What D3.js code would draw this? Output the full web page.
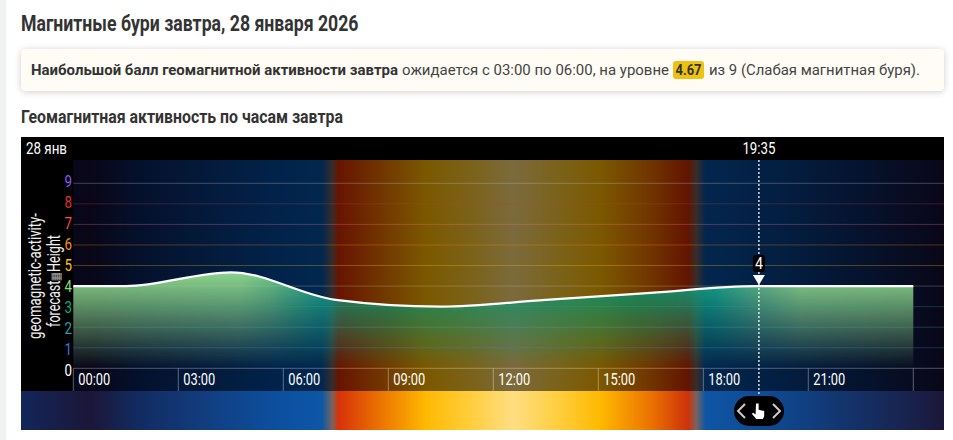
<!DOCTYPE html>
<html lang="ru"><head><meta charset="utf-8">
<script src="https://cdn.jsdelivr.net/npm/d3@7"></script>
<style>
html,body{margin:0;padding:0;background:#fff;overflow:hidden}
svg{display:block}
text{font-family:"Roboto",sans-serif}
</style></head><body>
<svg id="c" width="953" height="440"></svg>
<script>
// data
const hours=[0,1.5,4.5,7.5,10.5,13.5,16.5,19.5,22.5,24];
const activity=[4,4,4.67,3.33,3,3.33,3.67,4,4,4];
const tickHours=[0,3,6,9,12,15,18,21,24];
const tickLabels=["00:00","03:00","06:00","09:00","12:00","15:00","18:00","21:00"];
const levels=[0,1,2,3,4,5,6,7,8,9];
const levelColors=["#ffffff","#2a80e8","#2f9db0","#00b080","#85e070","#ffc107","#ff8f00","#ff4d4d","#e03030","#8a5cf0"];
const gridColors=["#ffffff","#3a90d8","#50b0b0","#10b080","#b0c8a0","#ffc800","#ff9600","#ff7090","#c04050","#c8c8d8"];
const skyHours=[-1.49,0.49,1.77,3.63,5.91,7.11,7.4,7.57,8.77,10.06,11.34,12.57,13.91,15.06,16.49,17.57,17.8,18.06,20.26,22.26,24.26,24.89];
const skyColors=["#12265a","#1c1637","#122a5f","#123c7d","#0c50a0","#0d57a5","#78645f","#d7320a","#eb7300","#ffb900","#ffcd3c","#ffde82","#ffcd3c","#ffb900","#eb7300","#cd320a","#78645f","#0f55a5","#0f468c","#143269","#191e46","#1c1637"];
const fillHours=[0,4.77,5.63,6.49,7.29,7.77,9,12.57,16.2,17.63,18.34,19.63,20.77,26];
const fillColors=["#8cd78c","#8cd78c","#6ec887","#3cb487","#14a591","#0a9b78","#009670","#0f9673","#009670","#0fa07d","#19aa8c","#64be8c","#8cd78c","#8cd78c"];
const dateLabel="28 янв", cursorHour=19.583, cursorTime="19:35", cursorValue="4";

const svg=d3.select("#c");
const defs=svg.append("defs");
const x=d3.scaleLinear().domain([0,24]).range([73.3,913.3]);
const y=d3.scaleLinear().domain([0,9]).range([368.3,183.3]);
const yLabel=d3.scaleLinear().domain([0,9]).range([370.7,181]);
const L=21,R=944,T=137,PT=160,PB=391,SB=430;

function hGrad(id,hs,cs){
  const a=x(hs[0]),b=x(hs[hs.length-1]);
  const g=defs.append("linearGradient").attr("id",id).attr("gradientUnits","userSpaceOnUse")
    .attr("x1",a).attr("x2",b).attr("y1",0).attr("y2",0);
  hs.forEach((h,i)=>g.append("stop").attr("offset",(x(h)-a)/(b-a)).attr("stop-color",cs[i]));
}
hGrad("sky",skyHours,skyColors);
hGrad("dim",skyHours,skyColors.map(c=>{const k=d3.rgb(c);return d3.rgb(k.r*.5-5,k.g*.5-5,k.b*.5-5).clamp().formatHex();}));
hGrad("fillTop",fillHours,fillColors);
const fade=defs.append("linearGradient").attr("id","fade").attr("gradientUnits","userSpaceOnUse")
  .attr("x1",0).attr("x2",0).attr("y1",272).attr("y2",y(0));
fade.append("stop").attr("offset",0).attr("stop-color","#fff");
fade.append("stop").attr("offset",1).attr("stop-color","#000");
defs.append("mask").attr("id","fadeMask").attr("maskUnits","userSpaceOnUse")
  .attr("x",0).attr("y",0).attr("width",953).attr("height",440)
  .append("rect").attr("width",953).attr("height",440).attr("fill","url(#fade)");
const blur=defs.append("filter").attr("id","sh").attr("x","-5%").attr("y","-40%").attr("width","110%").attr("height","180%");
blur.append("feDropShadow").attr("dx",0).attr("dy",1).attr("stdDeviation",3.5).attr("flood-color","#000").attr("flood-opacity",.2);

function txt(p,s,x0,yy,o={}){
  const t=p.append("text").attr("x",x0).attr("y",yy).text(s)
    .attr("font-size",o.size||14).attr("font-weight",o.weight||400).attr("fill",o.fill||"#333");
  if(o.len) t.attr("textLength",o.len).attr("lengthAdjust","spacingAndGlyphs");
  if(o.anchor) t.attr("text-anchor",o.anchor);
  return t;
}
// page
svg.append("rect").attr("width",6).attr("height",440).attr("fill","#eef0f2");
txt(svg,"Магнитные бури завтра, 28 января 2026",21,31,{size:22.5,weight:700,len:337.5,fill:"#333"});
svg.append("rect").attr("x",L).attr("y",49).attr("width",R-L).attr("height",42).attr("rx",5)
  .attr("fill","#fffcf5").attr("filter","url(#sh)");
txt(svg,"Наибольшой балл геомагнитной активности завтра",31,75,{size:14,weight:700,len:367,fill:"#333"});
txt(svg,"ожидается с 03:00 по 06:00, на уровне",402,75,{size:14,len:267,fill:"#444"});
svg.append("rect").attr("x",673).attr("y",61).attr("width",31).attr("height",18).attr("rx",3).attr("fill","#eec212");
txt(svg,"4.67",675.5,75,{size:15,weight:700,len:26,fill:"#333"});
txt(svg,"из 9 (Слабая магнитная буря).",709,75,{size:14,len:211,fill:"#444"});
txt(svg,"Геомагнитная активность по часам завтра",21,123.3,{size:19,weight:700,len:322,fill:"#333"});

// chart frame
svg.append("rect").attr("x",L).attr("y",T).attr("width",R-L).attr("height",PB-T).attr("fill","#000");
svg.append("rect").attr("x",L).attr("y",PB).attr("width",R-L).attr("height",SB-PB).attr("fill","url(#sky)");
svg.append("rect").attr("x",x(0)).attr("y",PT).attr("width",R-x(0)).attr("height",PB-PT).attr("fill","url(#dim)");

// area
const pts=hours.map((h,i)=>[h,activity[i]]);
const area=d3.area().x(d=>x(d[0])).y0(y(0)).y1(d=>y(d[1])).curve(d3.curveMonotoneX);
const line=d3.line().x(d=>x(d[0])).y(d=>y(d[1])).curve(d3.curveMonotoneX);
svg.append("path").datum(pts).attr("d",area).attr("fill","url(#fillTop)").attr("mask","url(#fadeMask)");

// grid + y labels
svg.selectAll(".grid").data(levels).join("line").attr("class","grid")
  .attr("x1",x(0)).attr("x2",R).attr("y1",d=>y(d)).attr("y2",d=>y(d))
  .attr("stroke",d=>gridColors[d]).attr("stroke-opacity",.3).attr("stroke-width",1);
levels.forEach(d=>{
  txt(svg,String(d),72,yLabel(d)+5.7,{size:16.5,anchor:"end",fill:levelColors[d],len:7.5});
});

// x axis
svg.selectAll(".tick").data(tickHours).join("line").attr("class","tick")
  .attr("x1",d=>x(d)).attr("x2",d=>x(d)).attr("y1",y(0)).attr("y2",PB)
  .attr("stroke","#fff").attr("stroke-opacity",.35);
tickLabels.forEach((s,i)=>txt(svg,s,x(tickHours[i])+5,385,{size:16,len:32,fill:"#fff"}));

// axis title
const at=svg.append("g").attr("transform","translate(41,276) rotate(-90)");
txt(at,"geomagnetic-activity-",0,0,{size:17.5,anchor:"middle",len:126,fill:"#eee"});
const t2=txt(at,"",-5,19,{size:17.5,anchor:"middle",len:92,fill:"#eee"});
t2.append("tspan").text("forecast");
t2.append("tspan").text("▦").attr("fill","#aaa").attr("font-size",13);
t2.append("tspan").text("Height");

// top bar labels
txt(svg,dateLabel,26,154,{size:16,len:41,fill:"#fff"});
const cx=x(cursorHour)+.2;
txt(svg,cursorTime,cx,154,{size:16,len:33,anchor:"middle",fill:"#fff"});

// line
svg.append("path").datum(pts).attr("d",line).attr("fill","none").attr("stroke","#fff").attr("stroke-width",2.2);

// cursor
svg.append("line").attr("x1",cx).attr("x2",cx).attr("y1",PT).attr("y2",396)
  .attr("stroke","#fff").attr("stroke-opacity",.85).attr("stroke-width",1.5).attr("stroke-dasharray","2 2");
svg.append("rect").attr("x",cx-6).attr("y",255).attr("width",12).attr("height",17).attr("rx",3).attr("fill","#000");
txt(svg,cursorValue,cx,269,{size:16,anchor:"middle",len:8,fill:"#fff"});
svg.append("path").attr("d",d3.line()([[cx-6,275],[cx+6,275],[cx,285]])+"Z").attr("fill","#fff");

// scrub control
svg.append("rect").attr("x",734).attr("y",396).attr("width",50).attr("height",30).attr("rx",15).attr("fill","#000");
svg.append("path").attr("d","M745 404L738 411L745 418M773 404L780 411L773 418").attr("fill","none").attr("stroke","#ccc").attr("stroke-width",2);
svg.append("path").attr("d","M756 403.5h2.6v6.3l5.6 1.2v5.5l-1.4 2.5h-6.6l-4.4-5.2l1.4-1l2.4 1.6z").attr("fill","#fff");
</script></body></html>
